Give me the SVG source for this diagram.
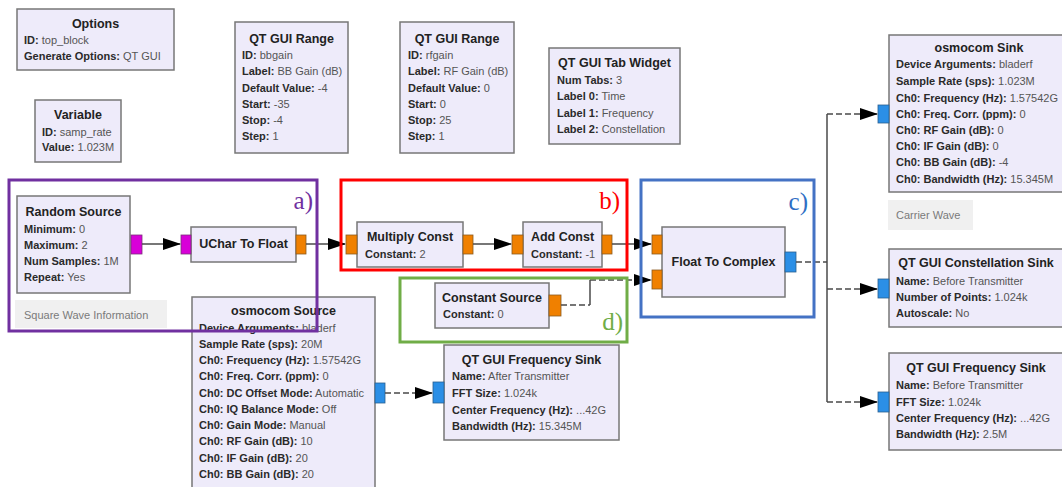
<svg xmlns="http://www.w3.org/2000/svg" width="1062" height="487" viewBox="0 0 1062 487">
  <style>
    .blk { fill: #eeebfa; stroke: #777777; stroke-width: 1.5; }
    .t { font-family: "Liberation Sans", Arial, sans-serif; font-size: 12.5px; font-weight: bold; fill: #222222; text-anchor: middle; }
    .p { font-family: "Liberation Sans", Arial, sans-serif; font-size: 11px; fill: #555555; }
    .k { font-weight: bold; fill: #2a2a2a; }
    .note { fill: #f0f0f0; }
    .nt { font-family: "Liberation Sans", Arial, sans-serif; font-size: 11px; fill: #7a7a7a; }
    .pf { fill: #f08000; stroke: #8a5a20; stroke-width: 0.8; }
    .pc { fill: #2b8fe6; stroke: #2a5f90; stroke-width: 0.8; }
    .pb { fill: #d800d8; stroke: #7a307a; stroke-width: 0.8; }
    .wire { fill: none; stroke: #4a4a4a; stroke-width: 1.5; }
    .dash { stroke-dasharray: 6 3; }
    .arr { marker-end: url(#head); }
    .box { fill: none; stroke-width: 3; }
    .lab { font-family: "Liberation Serif", "Times New Roman", serif; font-size: 25px; text-anchor: end; }
  </style>
  <defs>
    <marker id="head" viewBox="0 0 18 12" markerWidth="18" markerHeight="12" refX="17" refY="6" orient="auto" markerUnits="userSpaceOnUse">
      <path d="M0,0 L18,6 L0,12 z" fill="#000000"/>
    </marker>
  </defs>
  <rect width="1062" height="487" fill="#ffffff"/>

  <!-- variable / option blocks -->
  <g id="options">
    <rect class="blk" x="17" y="9" width="157" height="61"/>
    <text class="t" x="95.5" y="28">Options</text>
    <text class="p" x="24" y="44"><tspan class="k">ID:</tspan> top_block</text>
    <text class="p" x="24" y="60"><tspan class="k">Generate Options:</tspan> QT GUI</text>
  </g>
  <g id="variable">
    <rect class="blk" x="35" y="100" width="86" height="62"/>
    <text class="t" x="78" y="119">Variable</text>
    <text class="p" x="42" y="136"><tspan class="k">ID:</tspan> samp_rate</text>
    <text class="p" x="42" y="151"><tspan class="k">Value:</tspan> 1.023M</text>
  </g>
  <g id="range_bbgain">
    <rect class="blk" x="235" y="22" width="113" height="131"/>
    <text class="t" x="291.5" y="43">QT GUI Range</text>
    <text class="p" x="242" y="59"><tspan class="k">ID:</tspan> bbgain</text>
    <text class="p" x="242" y="75"><tspan class="k">Label:</tspan> BB Gain (dB)</text>
    <text class="p" x="242" y="92"><tspan class="k">Default Value:</tspan> -4</text>
    <text class="p" x="242" y="108"><tspan class="k">Start:</tspan> -35</text>
    <text class="p" x="242" y="124"><tspan class="k">Stop:</tspan> -4</text>
    <text class="p" x="242" y="140"><tspan class="k">Step:</tspan> 1</text>
  </g>
  <g id="range_rfgain">
    <rect class="blk" x="400" y="22" width="114" height="131"/>
    <text class="t" x="457" y="43">QT GUI Range</text>
    <text class="p" x="408" y="59"><tspan class="k">ID:</tspan> rfgain</text>
    <text class="p" x="408" y="75"><tspan class="k">Label:</tspan> RF Gain (dB)</text>
    <text class="p" x="408" y="92"><tspan class="k">Default Value:</tspan> 0</text>
    <text class="p" x="408" y="108"><tspan class="k">Start:</tspan> 0</text>
    <text class="p" x="408" y="124"><tspan class="k">Stop:</tspan> 25</text>
    <text class="p" x="408" y="140"><tspan class="k">Step:</tspan> 1</text>
  </g>
  <g id="tab_widget">
    <rect class="blk" x="549" y="48" width="131" height="96"/>
    <text class="t" x="614.5" y="67">QT GUI Tab Widget</text>
    <text class="p" x="557" y="84"><tspan class="k">Num Tabs:</tspan> 3</text>
    <text class="p" x="557" y="100"><tspan class="k">Label 0:</tspan> Time</text>
    <text class="p" x="557" y="117"><tspan class="k">Label 1:</tspan> Frequency</text>
    <text class="p" x="557" y="133"><tspan class="k">Label 2:</tspan> Constellation</text>
  </g>

  <!-- signal chain -->
  <g id="random_source">
    <rect class="blk" x="17" y="196" width="113" height="97"/>
    <text class="t" x="73.5" y="216">Random Source</text>
    <text class="p" x="24" y="233"><tspan class="k">Minimum:</tspan> 0</text>
    <text class="p" x="24" y="249"><tspan class="k">Maximum:</tspan> 2</text>
    <text class="p" x="24" y="265"><tspan class="k">Num Samples:</tspan> 1M</text>
    <text class="p" x="24" y="281"><tspan class="k">Repeat:</tspan> Yes</text>
    <rect class="pb" x="131" y="235" width="11" height="19"/>
  </g>
  <g id="square_wave_note">
    <rect class="note" x="15" y="300" width="152" height="28"/>
    <text class="nt" x="24" y="319">Square Wave Information</text>
  </g>
  <g id="uchar_to_float">
    <rect class="blk" x="191" y="227" width="105" height="35"/>
    <text class="t" x="243.5" y="248">UChar To Float</text>
    <rect class="pb" x="181" y="235" width="10" height="19"/>
    <rect class="pf" x="296" y="235" width="10" height="19"/>
  </g>
  <g id="multiply_const">
    <rect class="blk" x="357" y="222" width="106" height="45"/>
    <text class="t" x="410" y="241">Multiply Const</text>
    <text class="p" x="365" y="258"><tspan class="k">Constant:</tspan> 2</text>
    <rect class="pf" x="346" y="235" width="11" height="19"/>
    <rect class="pf" x="463" y="235" width="10" height="19"/>
  </g>
  <g id="add_const">
    <rect class="blk" x="523" y="222" width="79" height="45"/>
    <text class="t" x="562.5" y="241">Add Const</text>
    <text class="p" x="531" y="258"><tspan class="k">Constant:</tspan> -1</text>
    <rect class="pf" x="512" y="235" width="11" height="19"/>
    <rect class="pf" x="602" y="235" width="10" height="19"/>
  </g>
  <g id="float_to_complex">
    <rect class="blk" x="662" y="227" width="123" height="70"/>
    <text class="t" x="723.5" y="266">Float To Complex</text>
    <rect class="pf" x="652" y="235" width="10" height="19"/>
    <rect class="pf" x="652" y="270" width="10" height="19"/>
    <rect class="pc" x="785" y="252" width="11" height="20"/>
  </g>
  <g id="constant_source">
    <rect class="blk" x="435" y="283" width="114" height="45"/>
    <text class="t" x="492" y="302">Constant Source</text>
    <text class="p" x="443" y="318"><tspan class="k">Constant:</tspan> 0</text>
    <rect class="pf" x="549" y="295" width="12" height="21"/>
  </g>
  <g id="osmocom_source">
    <rect class="blk" x="192" y="297" width="183" height="200"/>
    <text class="t" x="283.5" y="315">osmocom Source</text>
    <text class="p" x="199" y="332"><tspan class="k">Device Arguments:</tspan> bladerf</text>
    <text class="p" x="199" y="348"><tspan class="k">Sample Rate (sps):</tspan> 20M</text>
    <text class="p" x="199" y="364"><tspan class="k">Ch0: Frequency (Hz):</tspan> 1.57542G</text>
    <text class="p" x="199" y="380"><tspan class="k">Ch0: Freq. Corr. (ppm):</tspan> 0</text>
    <text class="p" x="199" y="397"><tspan class="k">Ch0: DC Offset Mode:</tspan> Automatic</text>
    <text class="p" x="199" y="413"><tspan class="k">Ch0: IQ Balance Mode:</tspan> Off</text>
    <text class="p" x="199" y="429"><tspan class="k">Ch0: Gain Mode:</tspan> Manual</text>
    <text class="p" x="199" y="445"><tspan class="k">Ch0: RF Gain (dB):</tspan> 10</text>
    <text class="p" x="199" y="462"><tspan class="k">Ch0: IF Gain (dB):</tspan> 20</text>
    <text class="p" x="199" y="478"><tspan class="k">Ch0: BB Gain (dB):</tspan> 20</text>
    <rect class="pc" x="375" y="383" width="10" height="20"/>
  </g>
  <g id="freq_sink_after">
    <rect class="blk" x="444" y="345" width="175" height="95"/>
    <text class="t" x="531.5" y="364">QT GUI Frequency Sink</text>
    <text class="p" x="452" y="380"><tspan class="k">Name:</tspan> After Transmitter</text>
    <text class="p" x="452" y="397"><tspan class="k">FFT Size:</tspan> 1.024k</text>
    <text class="p" x="452" y="414"><tspan class="k">Center Frequency (Hz):</tspan> ...42G</text>
    <text class="p" x="452" y="430"><tspan class="k">Bandwidth (Hz):</tspan> 15.345M</text>
    <rect class="pc" x="433" y="382" width="11" height="21"/>
  </g>

  <!-- sinks on the right -->
  <g id="osmocom_sink">
    <rect class="blk" x="889" y="35" width="180" height="157"/>
    <text class="t" x="979" y="52">osmocom Sink</text>
    <text class="p" x="896" y="68"><tspan class="k">Device Arguments:</tspan> bladerf</text>
    <text class="p" x="896" y="85"><tspan class="k">Sample Rate (sps):</tspan> 1.023M</text>
    <text class="p" x="896" y="102"><tspan class="k">Ch0: Frequency (Hz):</tspan> 1.57542G</text>
    <text class="p" x="896" y="118"><tspan class="k">Ch0: Freq. Corr. (ppm):</tspan> 0</text>
    <text class="p" x="896" y="134"><tspan class="k">Ch0: RF Gain (dB):</tspan> 0</text>
    <text class="p" x="896" y="150"><tspan class="k">Ch0: IF Gain (dB):</tspan> 0</text>
    <text class="p" x="896" y="166"><tspan class="k">Ch0: BB Gain (dB):</tspan> -4</text>
    <text class="p" x="896" y="183"><tspan class="k">Ch0: Bandwidth (Hz):</tspan> 15.345M</text>
    <rect class="pc" x="878" y="105" width="11" height="18"/>
  </g>
  <g id="carrier_wave_note">
    <rect class="note" x="888" y="200" width="85" height="30"/>
    <text class="nt" x="896" y="219">Carrier Wave</text>
  </g>
  <g id="constellation_sink">
    <rect class="blk" x="889" y="249" width="174" height="78"/>
    <text class="t" x="976" y="267">QT GUI Constellation Sink</text>
    <text class="p" x="896" y="285"><tspan class="k">Name:</tspan> Before Transmitter</text>
    <text class="p" x="896" y="301"><tspan class="k">Number of Points:</tspan> 1.024k</text>
    <text class="p" x="896" y="317"><tspan class="k">Autoscale:</tspan> No</text>
    <rect class="pc" x="878" y="279" width="11" height="19"/>
  </g>
  <g id="freq_sink_before">
    <rect class="blk" x="889" y="353" width="174" height="97"/>
    <text class="t" x="976" y="372">QT GUI Frequency Sink</text>
    <text class="p" x="896" y="389"><tspan class="k">Name:</tspan> Before Transmitter</text>
    <text class="p" x="896" y="406"><tspan class="k">FFT Size:</tspan> 1.024k</text>
    <text class="p" x="896" y="422"><tspan class="k">Center Frequency (Hz):</tspan> ...42G</text>
    <text class="p" x="896" y="438"><tspan class="k">Bandwidth (Hz):</tspan> 2.5M</text>
    <rect class="pc" x="878" y="392" width="11" height="20"/>
  </g>

  <!-- connections -->
  <g id="connectors">
    <path class="wire arr" d="M142,244 H180"/>
    <path class="wire arr" d="M306,244 H345"/>
    <path class="wire arr" d="M473,244 H511"/>
    <path class="wire arr" d="M612,244 H651"/>
    <path class="wire dash" d="M561,305 H590"/>
    <path class="wire" d="M590,305 V280"/>
    <path class="wire dash arr" d="M590,280 H651"/>
    <path class="wire dash" d="M796,262 H827"/>
    <path class="wire" d="M827,114 V402"/>
    <path class="wire dash arr" d="M827,114 H877"/>
    <path class="wire dash arr" d="M827,289 H877"/>
    <path class="wire dash arr" d="M827,402 H877"/>
    <path class="wire dash arr" d="M385,393 H432"/>
  </g>

  <!-- section outlines -->
  <g id="section_a">
    <rect class="box" x="9" y="180" width="308" height="151" stroke="#7030a0"/>
    <text class="lab" x="313" y="209" fill="#7030a0">a)</text>
  </g>
  <g id="section_b">
    <rect class="box" x="341" y="180" width="286" height="90" stroke="#ff0000"/>
    <text class="lab" x="620" y="209" fill="#ff0000">b)</text>
  </g>
  <g id="section_c">
    <rect class="box" x="641" y="180" width="173" height="137" stroke="#4472c4"/>
    <text class="lab" x="808" y="210" fill="#2f6fc4">c)</text>
  </g>
  <g id="section_d">
    <rect class="box" x="400" y="278" width="227" height="64" stroke="#70ad47"/>
    <text class="lab" x="623" y="330" fill="#70ad47">d)</text>
  </g>
</svg>
